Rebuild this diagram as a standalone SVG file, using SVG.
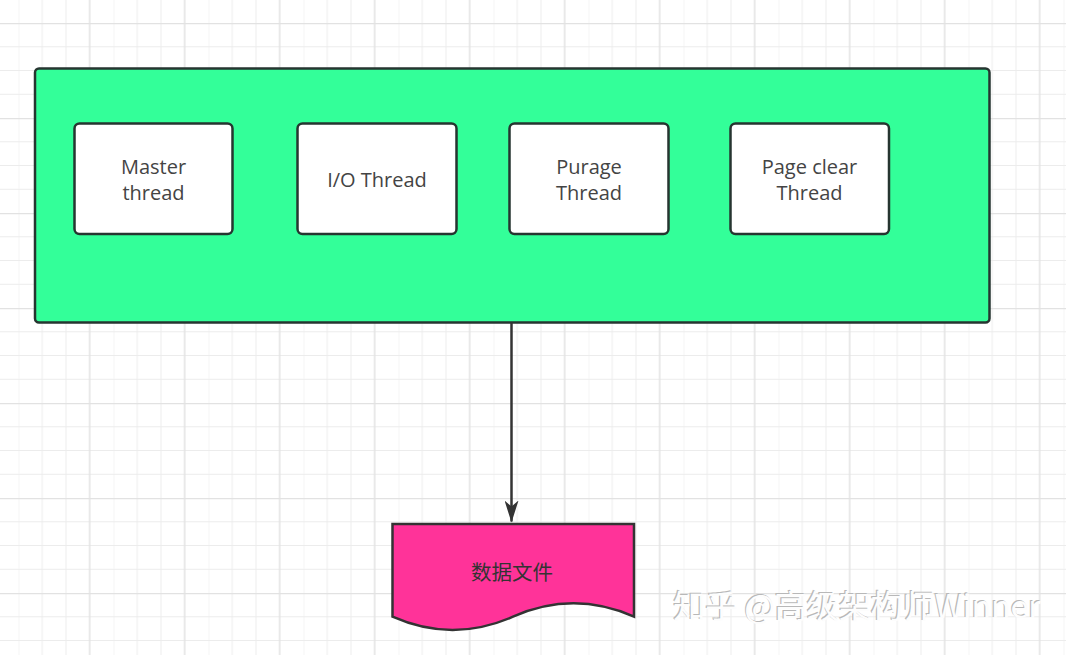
<svg xmlns="http://www.w3.org/2000/svg" width="1066" height="655" viewBox="0 0 1066 655">
  <defs>
    <pattern id="grid" patternUnits="userSpaceOnUse" x="18.5" y="23" width="95" height="95">
      <path d="M0 23.75H95M0 47.5H95M0 71.25H95M23.75 0V95M47.5 0V95M0 0V95" fill="none" stroke="#ececec" stroke-width="1"/>
      <path d="M0 0.5H95M71.25 0V95" fill="none" stroke="#e2e2e2" stroke-width="1.5"/>
    </pattern>
    <marker id="arrow" viewBox="0 0 22 14" refX="21" refY="7" markerUnits="userSpaceOnUse" markerWidth="22" markerHeight="14" orient="auto">
      <path d="M0 0L22 7L0 14L6 7Z" fill="#333333"/>
    </marker>
    <style>
      .thread rect { fill: #ffffff; stroke: #263530; stroke-width: 2.5; }
      .label { font-family: "Open Sans", "Liberation Sans", sans-serif; font-size: 20px; fill: #444444; text-anchor: middle; }
      .wm { font-family: "Noto Sans CJK SC", "Noto Sans", sans-serif; font-size: 32px; }
    </style>
  </defs>
  <rect width="1066" height="655" fill="#ffffff"/>
  <rect width="1066" height="655" fill="url(#grid)"/>

  <g id="container">
    <rect x="35" y="68.5" width="954.5" height="254" rx="4" fill="#33FF99" stroke="#263530" stroke-width="2.5"/>
  </g>

  <g id="master" class="thread">
    <rect x="74.5" y="123.5" width="158" height="110.5" rx="5"/>
    <text class="label" x="153.5" y="173.5">Master</text>
    <text class="label" x="153.5" y="199.5">thread</text>
  </g>
  <g id="io" class="thread">
    <rect x="297.5" y="123.5" width="159" height="110.5" rx="5"/>
    <text class="label" x="377" y="187">I/O Thread</text>
  </g>
  <g id="purage" class="thread">
    <rect x="509.5" y="123.5" width="159" height="110.5" rx="5"/>
    <text class="label" x="589" y="174">Purage</text>
    <text class="label" x="589" y="199.5">Thread</text>
  </g>
  <g id="pageclear" class="thread">
    <rect x="730.5" y="123.5" width="158.5" height="110.5" rx="5"/>
    <text class="label" x="809.5" y="174">Page clear</text>
    <text class="label" x="809.5" y="199.5">Thread</text>
  </g>

  <g id="connectors">
    <line x1="511.5" y1="322.5" x2="511.5" y2="521.5" stroke="#333333" stroke-width="2.5" marker-end="url(#arrow)"/>
  </g>

  <g id="datafile">
    <path d="M392.5 524H634V616.7Q573.5 590 513 616.7Q452.5 643.3 392.5 616.7Z" fill="#FF3399" stroke="#333333" stroke-width="2.5"/>
    <text x="512" y="580" font-family="Noto Sans CJK SC, sans-serif" font-size="20.5" fill="#333333" text-anchor="middle">数据文件</text>
  </g>

  <g id="watermark">
    <text class="wm" x="672" y="617" fill="#b8b8b8">知乎 @高级架构师Winner</text>
    <text class="wm" x="673.2" y="618" fill="#fdfdfd">知乎 @高级架构师Winner</text>
  </g>
</svg>
